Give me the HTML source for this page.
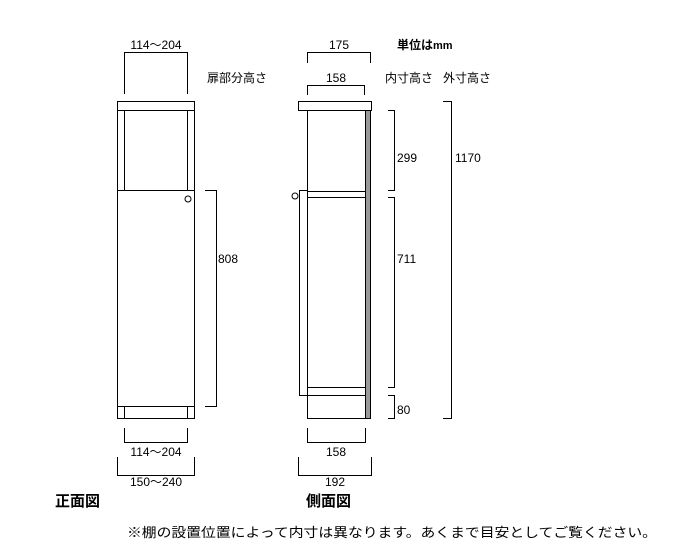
<!DOCTYPE html>
<html><head><meta charset="utf-8"><style>
body{margin:0;background:#fff;}
svg{display:block}
text{font-family:"Liberation Sans","Noto Sans CJK JP",sans-serif;font-size:12px;fill:#000}
.b{font-weight:bold}
</style></head><body>
<svg width="700" height="556" viewBox="0 0 700 556" xmlns="http://www.w3.org/2000/svg">
<g fill="none" stroke="#000" stroke-width="1">
<rect x="117.5" y="101.5" width="77" height="9"/>
<rect x="117.5" y="110.5" width="77" height="308"/>
<line x1="124.5" y1="110.5" x2="124.5" y2="190.5"/>
<line x1="187.5" y1="110.5" x2="187.5" y2="190.5"/>
<line x1="117.5" y1="190.5" x2="194.5" y2="190.5"/>
<line x1="117.5" y1="406.5" x2="194.5" y2="406.5"/>
<line x1="124.5" y1="406.5" x2="124.5" y2="418.5"/>
<line x1="187.5" y1="406.5" x2="187.5" y2="418.5"/>
<circle cx="188" cy="199" r="3"/>
<polyline points="124.5,94 124.5,52.5 187.5,52.5 187.5,94"/>
<polyline points="205,190.5 216.5,190.5 216.5,406.5 205,406.5"/>
<polyline points="124.5,428 124.5,442.5 187.5,442.5 187.5,428"/>
<polyline points="117.5,457 117.5,475.5 194.5,475.5 194.5,457"/>
<rect x="298.5" y="101.5" width="73" height="9"/>
<rect x="307.5" y="110.5" width="63" height="308"/>
<rect x="365.5" y="110.5" width="5" height="308" fill="#999"/>
<line x1="307.5" y1="191.5" x2="365.5" y2="191.5"/>
<line x1="307.5" y1="197.5" x2="365.5" y2="197.5"/>
<line x1="307.5" y1="387.5" x2="365.5" y2="387.5"/>
<polyline points="307.5,190.5 299.5,190.5 299.5,395.5 365.5,395.5"/>
<circle cx="295" cy="196" r="3"/>
<polyline points="307.5,63 307.5,52.5 370.5,52.5 370.5,63"/>
<polyline points="307.5,95 307.5,85.5 364.5,85.5 364.5,95"/>
<polyline points="388,110.5 394.5,110.5 394.5,190.5 388,190.5"/>
<polyline points="388,197.5 394.5,197.5 394.5,387.5 388,387.5"/>
<polyline points="388,395.5 394.5,395.5 394.5,418.5 388,418.5"/>
<polyline points="443,101.5 451.5,101.5 451.5,418.5 443,418.5"/>
<polyline points="307.5,428 307.5,442.5 365.5,442.5 365.5,428"/>
<polyline points="298.5,457 298.5,475.5 371.5,475.5 371.5,457"/>
</g>
<text x="156" y="49" text-anchor="middle">114～204</text>
<text x="207" y="82">扉部分高さ</text>
<text x="218" y="263">808</text>
<text x="156" y="456" text-anchor="middle">114～204</text>
<text x="156" y="486" text-anchor="middle">150～240</text>
<text x="339" y="49" text-anchor="middle">175</text>
<text x="336" y="82" text-anchor="middle">158</text>
<text x="397" y="49" class="b">単位は<tspan font-size="11">mm</tspan></text>
<text x="385" y="82">内寸高さ</text>
<text x="443" y="82">外寸高さ</text>
<text x="397" y="162">299</text>
<text x="397" y="263">711</text>
<text x="397" y="414">80</text>
<text x="455" y="162">1170</text>
<text x="336" y="456" text-anchor="middle">158</text>
<text x="335" y="486" text-anchor="middle">192</text>
<text x="55" y="506" class="b" style="font-size:15px">正面図</text>
<text x="306" y="506" class="b" style="font-size:15px">側面図</text>
<text x="127" y="537" style="font-size:13px" textLength="530" lengthAdjust="spacingAndGlyphs">※棚の設置位置によって内寸は異なります。あくまで目安としてご覧ください。</text>
</svg>
</body></html>
